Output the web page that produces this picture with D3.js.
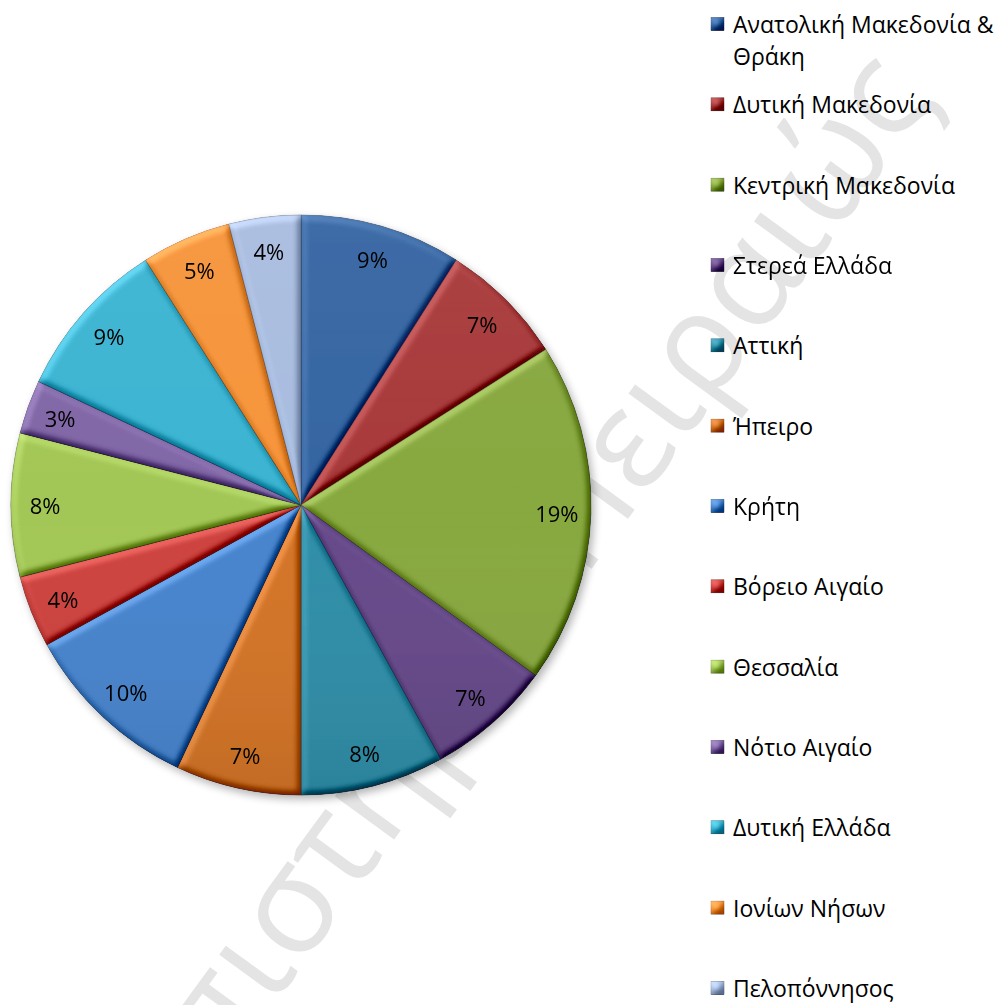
<!DOCTYPE html>
<html>
<head>
<meta charset="utf-8">
<script src="https://cdn.jsdelivr.net/npm/d3@7"></script>
<style>
  html, body { margin: 0; padding: 0; background: #ffffff; }
  svg { display: block; }
</style>
</head>
<body>
<svg id="chart" width="1004" height="1005"></svg>
<script>
// Regions of Greece and their share of the total
const regions = [
  "Ανατολική Μακεδονία & Θράκη",
  "Δυτική Μακεδονία",
  "Κεντρική Μακεδονία",
  "Στερεά Ελλάδα",
  "Αττική",
  "Ήπειρο",
  "Κρήτη",
  "Βόρειο Αιγαίο",
  "Θεσσαλία",
  "Νότιο Αιγαίο",
  "Δυτική Ελλάδα",
  "Ιονίων Νήσων",
  "Πελοπόννησος"
];
const shares = [9, 7, 19, 7, 8, 7, 10, 4, 8, 3, 9, 5, 4];
const sliceColors = [
  "#3565a2", "#a8393a", "#88a840", "#664989", "#2f8ea8", "#d37427",
  "#4784cd", "#cd423e", "#a3c756", "#8066a6", "#3bb4d2", "#f6943a", "#a8bcdf"
];
const watermark = "Πανεπιστήμιο Πειραιώς";

const svg = d3.select("#chart");
const cx = 301, cy = 505, R = 290;
const FONT = "'Open Sans', 'Noto Sans', sans-serif";

const defs = svg.append("defs");

// Bevel: blurred alpha used as a height map, lit from the upper left
const bevel = defs.append("filter").attr("id", "bevel")
  .attr("x", "-5%").attr("y", "-5%").attr("width", "110%").attr("height", "110%")
  .attr("color-interpolation-filters", "sRGB");
bevel.append("feGaussianBlur").attr("in", "SourceAlpha").attr("stdDeviation", 3.5).attr("result", "blur");
bevel.append("feDiffuseLighting").attr("in", "blur").attr("surfaceScale", 5)
  .attr("diffuseConstant", 0.7071).attr("lighting-color", "#ffffff").attr("result", "light")
  .append("feDistantLight").attr("azimuth", 235).attr("elevation", 45);
bevel.append("feComposite").attr("in", "SourceGraphic").attr("in2", "light")
  .attr("operator", "arithmetic").attr("k1", 0).attr("k2", 1).attr("k3", 0.65).attr("k4", -0.325)
  .attr("result", "lit");
bevel.append("feComposite").attr("in", "lit").attr("in2", "SourceAlpha").attr("operator", "in");

// Soft shadow under the whole pie
const shadow = defs.append("filter").attr("id", "shadow")
  .attr("x", "-10%").attr("y", "-10%").attr("width", "125%").attr("height", "125%");
shadow.append("feGaussianBlur").attr("in", "SourceAlpha").attr("stdDeviation", 4).attr("result", "b");
shadow.append("feOffset").attr("in", "b").attr("dx", 3).attr("dy", 4).attr("result", "o");
shadow.append("feComponentTransfer").attr("in", "o").attr("result", "s")
  .append("feFuncA").attr("type", "linear").attr("slope", 0.3);
const sm = shadow.append("feMerge");
sm.append("feMergeNode").attr("in", "s");
sm.append("feMergeNode").attr("in", "SourceGraphic");

// Gentle top-to-bottom shading over the pie
const shade = defs.append("linearGradient").attr("id", "shade")
  .attr("x1", 0).attr("y1", 0).attr("x2", 0).attr("y2", 1);
shade.append("stop").attr("offset", "0%").attr("stop-color", "#ffffff").attr("stop-opacity", 0.05);
shade.append("stop").attr("offset", "50%").attr("stop-color", "#ffffff").attr("stop-opacity", 0);
shade.append("stop").attr("offset", "100%").attr("stop-color", "#000000").attr("stop-opacity", 0.08);

// Watermark: laid along a diagonal so that the "σ" and the second "α"
// fall on two chosen points of the page, behind the chart
(function drawWatermark() {
  const from = [292, 912], to = [750, 284];   // where chars 6 and 17 should sit
  const iA = 6, iB = 17, base = 100;
  const t = svg.append("text")
    .attr("font-family", FONT)
    .attr("font-size", base)
    .attr("fill", "#e4e4e4")
    .attr("x", 0).attr("y", 0)
    .text(watermark);
  const n = t.node();
  const ctr = i => {
    const e = n.getExtentOfChar(i);
    return [e.x + e.width / 2, e.y + e.height / 2 + 0.1 * base];
  };
  const a = ctr(iA), b = ctr(iB);
  const dx = to[0] - from[0], dy = to[1] - from[1];
  const k = Math.hypot(dx, dy) / (b[0] - a[0]);
  const ang = Math.atan2(dy, dx);
  const ax = a[0] * k, ay = a[1] * k;
  const rx = ax * Math.cos(ang) - ay * Math.sin(ang);
  const ry = ax * Math.sin(ang) + ay * Math.cos(ang);
  t.attr("font-size", base * k)
    .attr("transform", `translate(${from[0] - rx},${from[1] - ry}) rotate(${ang * 180 / Math.PI})`);
})();

const color = d3.scaleOrdinal().domain(regions).range(sliceColors);

const pie = d3.pie().sort(null).value(d => d.value);
const data = regions.map((name, i) => ({ name, value: shares[i] }));
const arcs = pie(data);
const total = d3.sum(shares);

const arc = d3.arc().innerRadius(0).outerRadius(R);
const labelArc = d3.arc().innerRadius(256).outerRadius(256);

const pieG = svg.append("g").attr("transform", `translate(${cx},${cy})`);
const slicesG = pieG.append("g").attr("filter", "url(#shadow)");

slicesG.selectAll("path.slice")
  .data(arcs)
  .join("path")
  .attr("class", "slice")
  .attr("d", arc)
  .attr("fill", d => color(d.data.name))
  .attr("stroke", d => d3.color(color(d.data.name)).darker(0.6))
  .attr("stroke-width", 0.7)
  .attr("filter", "url(#bevel)");

slicesG.append("circle").attr("r", R).attr("fill", "url(#shade)").attr("pointer-events", "none");

pieG.selectAll("text.pct")
  .data(arcs)
  .join("text")
  .attr("class", "pct")
  .attr("transform", d => `translate(${labelArc.centroid(d)})`)
  .attr("text-anchor", "middle")
  .attr("dominant-baseline", "central")
  .attr("font-family", FONT)
  .attr("font-size", 22)
  .attr("fill", "#000000")
  .text(d => `${Math.round(d.data.value / total * 100)}%`);

// Legend
const legendX = 711, legendTop = 24, legendStep = 80.33, textX = 733, maxW = 268;
const lg = svg.append("g");
const items = lg.selectAll("g.item")
  .data(regions)
  .join("g")
  .attr("class", "item")
  .attr("transform", (d, i) => `translate(0,${legendTop + i * legendStep})`);

items.append("rect")
  .attr("x", legendX).attr("y", -6.5)
  .attr("width", 13).attr("height", 13)
  .attr("fill", d => color(d))
  .attr("stroke", d => d3.color(color(d)).darker(0.6))
  .attr("stroke-width", 0.6)
  .attr("filter", "url(#bevel)");

items.append("text")
  .attr("x", textX)
  .attr("y", 0)
  .attr("dominant-baseline", "central")
  .attr("font-family", FONT)
  .attr("font-size", 23)
  .attr("fill", "#000000")
  .each(function (d) {
    const t = d3.select(this);
    const words = d.split(" ");
    let line = [];
    let ts = t.append("tspan").attr("x", textX).attr("dy", 0);
    words.forEach(w => {
      line.push(w);
      ts.text(line.join(" "));
      if (ts.node().getComputedTextLength() > maxW && line.length > 1) {
        line.pop();
        ts.text(line.join(" "));
        line = [w];
        ts = t.append("tspan").attr("x", textX).attr("dy", 32).text(w);
      }
    });
  });
</script>
</body>
</html>
